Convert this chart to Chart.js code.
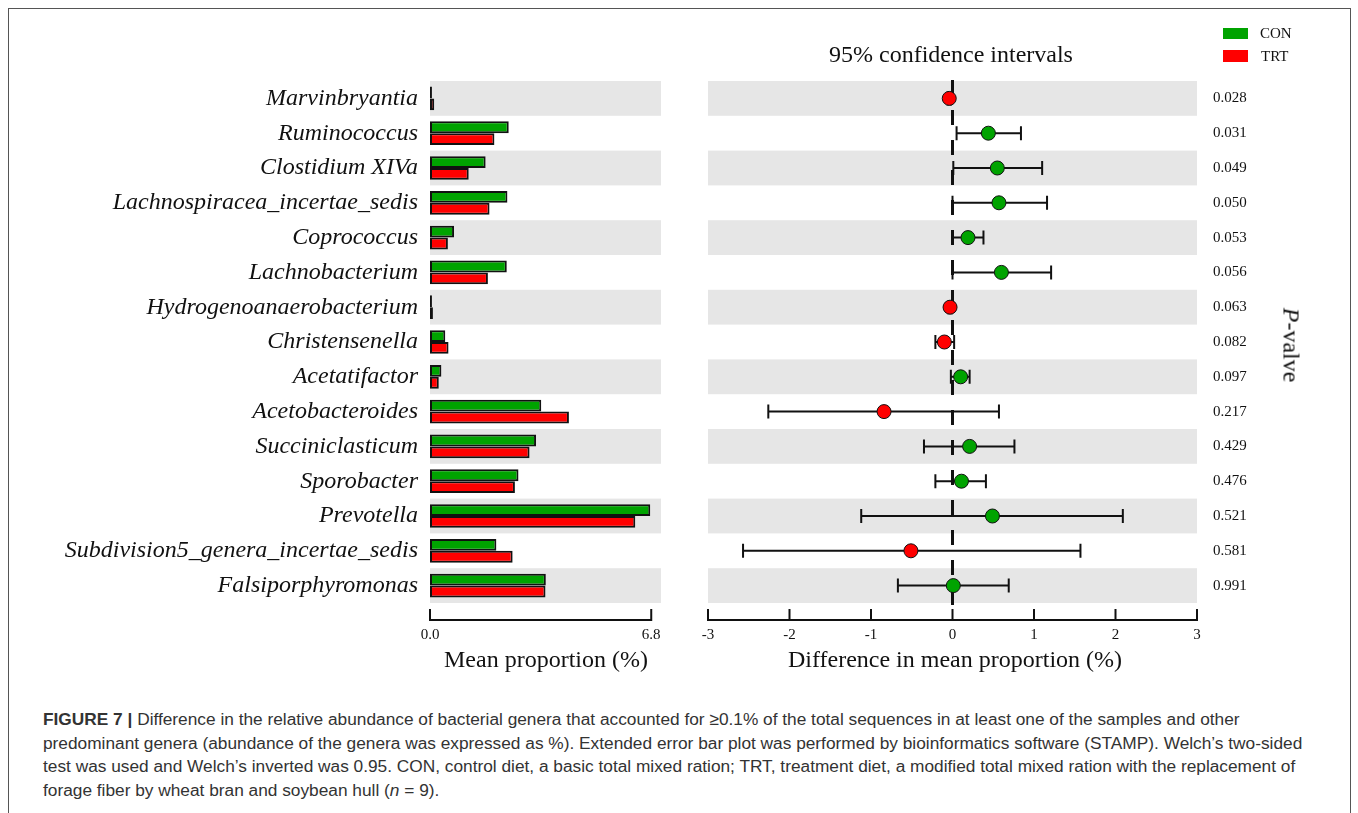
<!DOCTYPE html>
<html>
<head>
<meta charset="utf-8">
<script src="https://cdn.jsdelivr.net/npm/chart.js@4.4.1/dist/chart.umd.min.js"></script>
<style>
  body { margin: 0; background: #fff; width: 1358px; height: 813px; overflow: hidden; position: relative; font-family: 'Liberation Serif', 'Times New Roman', serif; color: #111; }
  #frame { position: absolute; left: 8px; top: 8px; width: 1341px; height: 900px; border: 1.5px solid #555; border-bottom: none; }
  canvas { position: absolute; top: 0; }
  #barCanvas { left: 0; }
  #diffCanvas { left: 680px; }
  .txt { position: absolute; white-space: nowrap; font-size: 24px; transform: translate(-50%, -50%); }
  .key { position: absolute; width: 25px; height: 11px; }
  .keyLabel { position: absolute; font-size: 15px; transform: translateY(-50%); }
  #caption { position: absolute; left: 43px; top: 708px; font-family: 'Liberation Sans', Arial, sans-serif; font-size: 17.3px; line-height: 23.7px; color: #333; }
  #caption div { white-space: nowrap; }
</style>
</head>
<body>
<div id="frame"></div>
<canvas id="barCanvas" width="680" height="700"></canvas>
<canvas id="diffCanvas" width="678" height="700"></canvas>

<div class="txt" style="left:951px; top:54px;">95% confidence intervals</div>
<div class="txt" style="left:546px; top:659px;">Mean proportion (%)</div>
<div class="txt" style="left:955px; top:659px;">Difference in mean proportion (%)</div>
<div class="txt" style="left:1291px; top:345px; transform: translate(-50%, -50%) rotate(90deg);"><i>P</i>-valve</div>

<div class="key" style="left:1223px; top:28px; background:#00a300;"></div>
<div class="keyLabel" style="left:1260px; top:33px;">CON</div>
<div class="key" style="left:1223px; top:50px; height:12px; background:#ff0000;"></div>
<div class="keyLabel" style="left:1261px; top:56px;">TRT</div>

<div id="caption">
  <div><b>FIGURE 7 |</b> Difference in the relative abundance of bacterial genera that accounted for ≥0.1% of the total sequences in at least one of the samples and other</div>
  <div>predominant genera (abundance of the genera was expressed as %). Extended error bar plot was performed by bioinformatics software (STAMP). Welch’s two-sided</div>
  <div>test was used and Welch’s inverted was 0.95. CON, control diet, a basic total mixed ration; TRT, treatment diet, a modified total mixed ration with the replacement of</div>
  <div>forage fiber by wheat bran and soybean hull (<i>n</i> = 9).</div>
</div>

<script>
// Extended error bar plot (STAMP style): mean proportions on the left, differences with 95% CI on the right

const genera = [
  'Marvinbryantia', 'Ruminococcus', 'Clostidium XIVa', 'Lachnospiracea_incertae_sedis',
  'Coprococcus', 'Lachnobacterium', 'Hydrogenoanaerobacterium', 'Christensenella',
  'Acetatifactor', 'Acetobacteroides', 'Succiniclasticum', 'Sporobacter',
  'Prevotella', 'Subdivision5_genera_incertae_sedis', 'Falsiporphyromonas'
];
const conMeans = [0.06, 2.42, 1.71, 2.38, 0.74, 2.36, 0.06, 0.47, 0.35, 3.42, 3.26, 2.72, 6.77, 2.04, 3.56];
const trtMeans = [0.13, 1.98, 1.19, 1.83, 0.55, 1.78, 0.09, 0.57, 0.27, 4.27, 3.06, 2.61, 6.31, 2.54, 3.55];
const diffMeans = [-0.04, 0.44, 0.55, 0.57, 0.19, 0.60, -0.03, -0.10, 0.10, -0.84, 0.21, 0.11, 0.49, -0.51, 0.01];
const ciLow = [-0.06, 0.05, 0.01, 0.00, 0.00, 0.00, -0.05, -0.21, -0.02, -2.26, -0.35, -0.21, -1.12, -2.57, -0.67];
const ciHigh = [-0.02, 0.84, 1.10, 1.16, 0.38, 1.21, -0.01, 0.02, 0.21, 0.57, 0.76, 0.41, 2.09, 1.57, 0.69];
const pValues = ['0.028', '0.031', '0.049', '0.050', '0.053', '0.056', '0.063', '0.082', '0.097', '0.217', '0.429', '0.476', '0.521', '0.581', '0.991'];
const barTicks = [0, 6.8];
const diffTicks = [-3, -2, -1, 0, 1, 2, 3];

const GREEN = '#00a300';
const RED = '#ff0000';
const INK = '#111';
const BAND = '#e6e6e6';

// grey stripes on every other row
const stripes = {
  id: 'stripes',
  beforeDatasetsDraw(chart) {
    const { ctx, chartArea: a, scales: { y } } = chart;
    const h = (a.bottom - a.top) / genera.length;
    ctx.save();
    ctx.fillStyle = BAND;
    genera.forEach((g, i) => {
      if (i % 2) return;
      const yc = y.getPixelForValue(i);
      ctx.fillRect(a.left, yc - h / 2, a.right - a.left, h);
    });
    ctx.restore();
  }
};

// bottom axis drawn a bit below the plot, ticks pointing up
function drawAxis(chart, ticks, fmt) {
  const { ctx, chartArea: a, scales: { x } } = chart;
  const yA = a.bottom + 17;
  const x0 = x.getPixelForValue(ticks[0]);
  const x1 = x.getPixelForValue(ticks[ticks.length - 1]);
  ctx.save();
  ctx.strokeStyle = INK;
  ctx.lineWidth = 2;
  ctx.beginPath();
  ctx.moveTo(x0 - 1, yA);
  ctx.lineTo(x1 + 1, yA);
  ticks.forEach(t => {
    const px = x.getPixelForValue(t);
    ctx.moveTo(px, yA + 1);
    ctx.lineTo(px, yA - 11);
  });
  ctx.stroke();
  ctx.fillStyle = INK;
  ctx.font = '15px "Liberation Serif"';
  ctx.textAlign = 'center';
  ctx.textBaseline = 'middle';
  ticks.forEach(t => ctx.fillText(fmt(t), x.getPixelForValue(t), yA + 15));
  ctx.restore();
}

const barAxis = {
  id: 'barAxis',
  afterDraw(chart) { drawAxis(chart, barTicks, t => t.toFixed(1)); }
};

const diffDecor = {
  id: 'diffDecor',
  beforeDatasetsDraw(chart) {
    const { ctx, chartArea: a, scales: { x, y } } = chart;
    const x0 = x.getPixelForValue(0);
    ctx.save();
    // dashed zero line
    ctx.strokeStyle = INK;
    ctx.lineWidth = 3;
    ctx.setLineDash([15, 15]);
    ctx.beginPath();
    ctx.moveTo(x0, a.top - 1);
    ctx.lineTo(x0, a.bottom + 17);
    ctx.stroke();
    ctx.setLineDash([]);
    // confidence intervals
    ctx.lineWidth = 2;
    genera.forEach((g, i) => {
      const yc = y.getPixelForValue(i);
      const xl = x.getPixelForValue(ciLow[i]);
      const xh = x.getPixelForValue(ciHigh[i]);
      ctx.beginPath();
      ctx.moveTo(xl, yc);
      ctx.lineTo(xh, yc);
      ctx.moveTo(xl, yc - 7);
      ctx.lineTo(xl, yc + 7);
      ctx.moveTo(xh, yc - 7);
      ctx.lineTo(xh, yc + 7);
      ctx.stroke();
    });
    ctx.restore();
  },
  afterDraw(chart) { drawAxis(chart, diffTicks, t => String(t)); }
};

new Chart(document.getElementById('barCanvas'), {
  type: 'bar',
  data: {
    labels: genera,
    datasets: [
      { label: 'CON', data: conMeans, backgroundColor: GREEN },
      { label: 'TRT', data: trtMeans, backgroundColor: RED }
    ]
  },
  options: {
    indexAxis: 'y',
    responsive: false,
    animation: false,
    events: [],
    layout: { padding: { left: 0, right: 19, top: 81, bottom: 97 } },
    datasets: {
      bar: { borderColor: INK, borderWidth: 2, borderSkipped: false, categoryPercentage: 0.68, barPercentage: 1 }
    },
    plugins: { legend: { display: false }, tooltip: { enabled: false } },
    scales: {
      x: { type: 'linear', min: 0, max: 7.1, display: false },
      y: {
        type: 'category',
        position: 'left',
        grid: { display: false },
        border: { display: false },
        ticks: {
          autoSkip: false,
          padding: 4,
          color: INK,
          font: { family: 'Liberation Serif', size: 24, style: 'italic' }
        },
        afterFit(scale) { scale.width = 430; }
      }
    }
  },
  plugins: [stripes, barAxis]
});

new Chart(document.getElementById('diffCanvas'), {
  type: 'line',
  data: {
    labels: genera,
    datasets: [{
      label: 'difference',
      data: diffMeans,
      showLine: false,
      pointRadius: 7,
      pointHoverRadius: 7,
      pointBackgroundColor: diffMeans.map(v => v >= 0 ? GREEN : RED),
      pointBorderColor: INK,
      pointBorderWidth: 1
    }]
  },
  options: {
    indexAxis: 'y',
    responsive: false,
    animation: false,
    events: [],
    layout: { padding: { left: 28, right: 101, top: 81, bottom: 97 } },
    plugins: { legend: { display: false }, tooltip: { enabled: false } },
    scales: {
      x: { type: 'linear', min: -3, max: 3, display: false },
      y: {
        type: 'category',
        position: 'right',
        offset: true,
        grid: { display: false },
        border: { display: false },
        ticks: {
          autoSkip: false,
          padding: 8,
          color: INK,
          font: { family: 'Liberation Serif', size: 15 },
          callback: (v, i) => pValues[i]
        },
        afterFit(scale) { scale.width = 60; }
      }
    }
  },
  plugins: [stripes, diffDecor]
});
</script>
</body>
</html>
